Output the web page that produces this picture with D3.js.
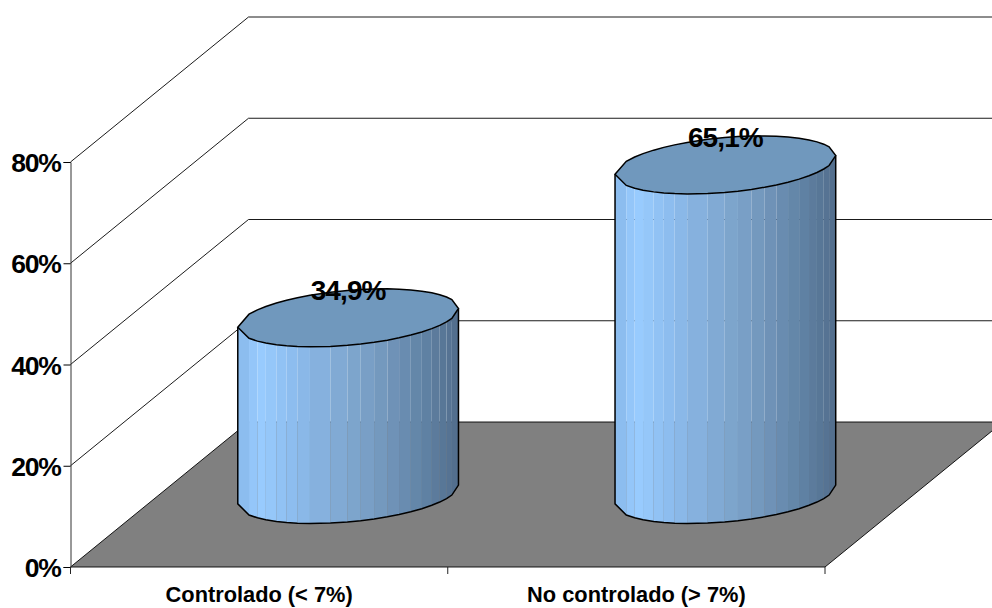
<!DOCTYPE html>
<html>
<head>
<meta charset="utf-8">
<script src="https://cdn.jsdelivr.net/npm/d3@7"></script>
<style>
  html, body { margin: 0; padding: 0; background: #fff; }
  svg { display: block; }
  text { font-family: "Liberation Sans", Arial, sans-serif; font-weight: bold; fill: #000; }
</style>
</head>
<body>
<svg id="chart" width="992" height="608"></svg>
<script>
// Chart data
const categories = ["Controlado (< 7%)", "No controlado (> 7%)"];
const values = [34.9, 65.1];
const yTicks = [0, 20, 40, 60, 80];

// Facet seams across a cylinder's width (0 = left silhouette, 1 = right silhouette)
const facetEdges = [0, .051, .089, .127, .175, .221, .27, .327, .42, .497, .557, .618, .678, .731, .784, .834, .879, .915, .946, .97, 1];

// Frame of the oblique projection
const left = 70.5, right = 825, floorY = 567, topY = 162;
const depthX = 178, depthY = 145;

const svg = d3.select("#chart");
const y = d3.scaleLinear().domain([0, 80]).range([floorY, topY]);
const x = d3.scaleBand().domain(categories).range([left, right]);

// Horizontal shading around the cylinder wall
const wallColor = d3.scaleLinear()
  .domain([0, .1, .25, .4, .55, .7, .85, 1])
  .range(["#88b8ea", "#99ccff", "#8dbdee", "#84afda", "#7ca3ca", "#6f93b8", "#6082a4", "#526d8c"]);
const capColor = "#7098bd";

// Back walls: one gridline per tick, running in depth then across
const wall = svg.append("g");
yTicks.filter(d => d > 0).forEach(d => {
  wall.append("path")
    .attr("d", d3.line()([
      [left, y(d)],
      [left + depthX, y(d) - depthY],
      [992, y(d) - depthY]
    ]))
    .attr("fill", "none")
    .attr("stroke", "#000")
    .attr("stroke-width", 0.9);
});

// Floor
svg.append("path")
  .attr("d", d3.line()([
    [left, floorY],
    [right, floorY],
    [right + depthX, floorY - depthY],
    [left + depthX, floorY - depthY]
  ]) + "Z")
  .attr("fill", "#808080")
  .attr("stroke", "#000")
  .attr("stroke-width", 0.9);

// Axes
const yAxis = d3.axisLeft(y).tickValues(yTicks).tickSize(7).tickPadding(3).tickFormat(d => d + "%");
const yG = svg.append("g").attr("transform", `translate(${left},0)`).call(yAxis);
yG.select(".domain").attr("stroke", "#333");
yG.selectAll("text").attr("font-size", 26.5).attr("dy", "0.36em").attr("letter-spacing", -1.3)
  .style("font-family", '"Liberation Sans", Arial, sans-serif').style("font-weight", "bold");

const xAxis = d3.axisBottom(x).tickSize(0).tickPadding(0);
const xG = svg.append("g").attr("transform", `translate(0,${floorY})`).call(xAxis);
xG.select(".domain").remove();
xG.selectAll("text").attr("font-size", 21.8).attr("dy", 0).attr("y", 34.5)
  .style("font-family", '"Liberation Sans", Arial, sans-serif').style("font-weight", "bold");

// Ticks sit on the category boundaries
[left, left + x.step(), left + 2 * x.step()].forEach(px => {
  svg.append("line").attr("x1", px).attr("x2", px)
    .attr("y1", floorY).attr("y2", floorY + 7)
    .attr("stroke", "#222").attr("stroke-width", 1);
});

// Cylinders
const radius = x.bandwidth() * 0.2925;   // half of the silhouette width
const capFrac = 0.2;                     // floor-plane radius as a share of the depth
const bx = depthX * capFrac, dy = depthY * capFrac;
const ax = Math.sqrt(radius * radius - bx * bx);
const phi = Math.atan2(bx, ax);

// Point on a circular rim, located by its fraction across the silhouette
function rimPoint(cx, cy, f, back) {
  const u = Math.acos(2 * f - 1);
  const t = back ? phi + u : phi - u;
  return [cx + ax * Math.cos(t) + bx * Math.sin(t), cy - dy * Math.sin(t)];
}

const pathLine = d3.line();
const pct = d3.format(".1f");

categories.forEach((c, i) => {
  const v = values[i];
  const cx = x(c) + x.bandwidth() / 2 + depthX / 2;
  const baseY = floorY - depthY / 2;
  const capY = baseY - (y(0) - y(v));
  const g = svg.append("g");

  // Wall facets: neighbouring edges are left fractional so seams stay faintly visible
  d3.pairs(facetEdges).forEach(([f0, f1]) => {
    const a = rimPoint(cx, capY, f0), b = rimPoint(cx, capY, f1);
    const c0 = rimPoint(cx, baseY, f0), c1 = rimPoint(cx, baseY, f1);
    g.append("path")
      .attr("d", pathLine([a, b, c1, c0]) + "Z")
      .attr("fill", wallColor((f0 + f1) / 2));
  });

  // Silhouette of the wall
  const bottomRim = facetEdges.map(f => rimPoint(cx, baseY, f));
  g.append("path")
    .attr("d", pathLine([rimPoint(cx, capY, 0), ...bottomRim, rimPoint(cx, capY, 1)]))
    .attr("fill", "none").attr("stroke", "#000").attr("stroke-width", 1.5);

  // Top cap
  const front = facetEdges.map(f => rimPoint(cx, capY, f));
  const backRim = facetEdges.slice().reverse().map(f => rimPoint(cx, capY, f, true));
  g.append("path")
    .attr("d", pathLine([...front, ...backRim]) + "Z")
    .attr("fill", capColor).attr("stroke", "#000").attr("stroke-width", 1.5);

  // Value label
  g.append("text")
    .attr("x", cx)
    .attr("y", capY - 18)
    .attr("text-anchor", "middle")
    .attr("font-size", 28)
    .attr("letter-spacing", -0.9)
    .text(pct(v).replace(".", ",") + "%");
});
</script>
</body>
</html>
